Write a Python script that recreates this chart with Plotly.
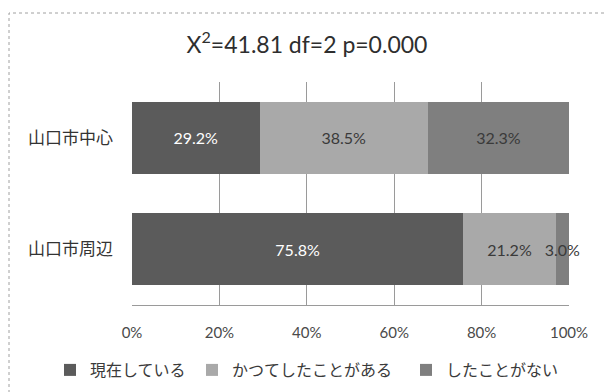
import plotly.graph_objects as go

# Survey breakdown by area (percent of respondents)
areas = ["山口市中心", "山口市周辺"]
series_names = ["現在している", "かつてしたことがある", "したことがない"]
current = [29.2, 75.8]
former = [38.5, 21.2]
never = [32.3, 3.0]
x_ticks = [0, 20, 40, 60, 80, 100]
x_tick_labels = ["0%", "20%", "40%", "60%", "80%", "100%"]
title_text = "X<sup>2</sup>=41.81 df=2 p=0.000"

colors = ["#5b5b5b", "#a9a9a9", "#7f7f7f"]
label_colors = ["#ffffff", "#3a3a3a", "#3a3a3a"]
legend_ids = ["legend", "legend2", "legend3"]
legend_left_px = [50, 192, 406]

W, H = 605, 392
L, R, T, B = 132, 36, 82, 87
plot_w = W - L - R
plot_h = H - T - B


def px_x(p):
    return (p - L) / plot_w


def px_y(p):
    return (H - B - p) / plot_h


latin = "Lato, 'Noto Sans CJK JP', sans-serif"
cjk = "'Noto Sans CJK JP', sans-serif"

fig = go.Figure()
for name, vals, col, tcol, lg in zip(series_names, [current, former, never],
                                     colors, label_colors, legend_ids):
    fig.add_trace(go.Bar(
        y=areas,
        x=vals,
        name=name,
        orientation="h",
        marker=dict(color=col, line=dict(width=0)),
        texttemplate="%{x:.1f}%",
        textposition="inside",
        insidetextanchor="middle",
        textangle=0,
        constraintext="none",
        cliponaxis=False,
        textfont=dict(family=latin, size=16, color=tcol),
        legend=lg,
        showlegend=True,
        hoverinfo="skip",
    ))

legend_common = dict(
    orientation="h",
    xref="container", yref="container",
    xanchor="left", yanchor="middle",
    y=1 - 370 / H,
    bgcolor="rgba(0,0,0,0)",
    font=dict(family=cjk, size=16, color="#3a3a3a"),
    itemwidth=30,
)

layout_legends = {
    lg: dict(legend_common, x=lx / W)
    for lg, lx in zip(legend_ids, legend_left_px)
}

fig.update_layout(
    width=W, height=H,
    margin=dict(l=L, r=R, t=T, b=B, autoexpand=False),
    paper_bgcolor="white",
    plot_bgcolor="white",
    barmode="stack",
    bargap=0.35,
    title=dict(
        text=title_text,
        x=px_x(307), xref="paper", xanchor="center",
        y=1 - 45 / H, yanchor="middle",
        font=dict(family=latin, size=23, color="#2e2e2e"),
    ),
    xaxis=dict(
        range=[0, 100],
        tickvals=x_ticks,
        ticktext=x_tick_labels,
        showgrid=True,
        gridcolor="#9a9a9a",
        gridwidth=1,
        zeroline=False,
        showline=True,
        linecolor="#9a9a9a",
        linewidth=1,
        ticks="",
        ticklabelstandoff=14,
        tickfont=dict(family=latin, size=15, color="#4a4a4a"),
    ),
    yaxis=dict(
        categoryorder="array",
        categoryarray=areas,
        autorange="reversed",
        showgrid=False,
        zeroline=False,
        showline=False,
        ticks="",
        ticklabelstandoff=18,
        tickfont=dict(family=cjk, size=17, color="#333333"),
    ),
    shapes=[
        dict(type="rect", xref="paper", yref="paper",
             x0=px_x(9), x1=px_x(620), y0=px_y(400), y1=px_y(13),
             line=dict(color="#a0a0a0", width=1, dash="dot"),
             fillcolor="rgba(0,0,0,0)", layer="below"),
    ],
    **layout_legends,
)

fig.write_html("out.html")
